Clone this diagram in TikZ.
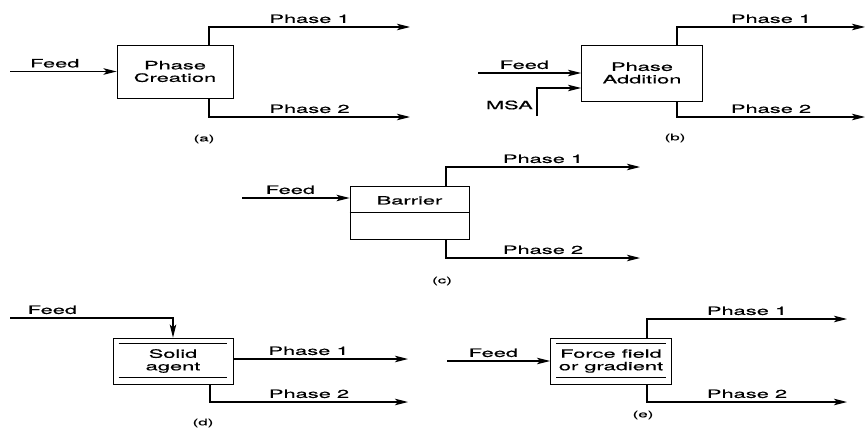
\documentclass[tikz,border=0pt]{standalone}
\usepackage{fontspec}
\usepackage{tikz}
\usetikzlibrary{arrows.meta,calc,positioning}
\newfontfamily\flowfont{TeX Gyre Heros}[FakeStretch=1.9,FakeBold=0.6]

\begin{document}
\begin{tikzpicture}[x=1pt,y=-1pt,font=\flowfont\fontsize{11.5}{12.5}\selectfont]
  \tikzset{unitbox/.style={draw,line width=0.9pt,align=center,inner sep=0pt},
           flow/.style={-{Stealth[length=13pt,width=6.5pt,inset=3pt]},line width=1.2pt},
           caption/.style={font=\flowfont\fontsize{9}{10}\selectfont}}
  \useasboundingbox (0,0) rectangle (866,428);
  % ---------------- (a) phase creation
  \node[unitbox,minimum width=116pt,minimum height=53pt] (boxa) at (175,71.5) {Phase\\Creation};
  \coordinate (feeda) at (10,71.5);
  \coordinate (a1) at (410,27); \coordinate (a2) at (410,117);
  \draw[flow] (feeda) -- node[above,pos=0.42] {Feed} (boxa.west);
  \draw[flow] ([xshift=34pt]boxa.north) |- node[above,pos=0.75] {Phase 1} (a1);
  \draw[flow] ([xshift=34pt]boxa.south) |- node[above,pos=0.75] {Phase 2} (a2);
  \node[caption] (capa) at (204,139) {(a)};
  % ---------------- (b) phase addition
  \node[unitbox,minimum width=121pt,minimum height=56pt] (boxb) at (642,73) {Phase\\Addition};
  \coordinate (feedb) at (478,73); \coordinate (msa) at (537,116);
  \coordinate (b1) at (865,27); \coordinate (b2) at (865,117);
  \draw[flow] (feedb) -- node[above,pos=0.45] {Feed} (boxb.west);
  \draw[flow] (msa) |- ([yshift=-15pt]boxb.west);
  \node[left=4pt of msa,yshift=11pt,inner sep=0pt] (msalab) {MSA};
  \draw[flow] ([xshift=35pt]boxb.north) |- node[above,pos=0.75] {Phase 1} (b1);
  \draw[flow] ([xshift=35pt]boxb.south) |- node[above,pos=0.75] {Phase 2} (b2);
  \node[caption] (capb) at (675,138) {(b)};
  % ---------------- (c) barrier
  \node[unitbox,minimum width=119pt,minimum height=53pt] (boxc) at (409.5,212.5) {};
  \draw[line width=0.9pt] (boxc.west) -- (boxc.east);
  \node (barrier) at ($(boxc.center)!0.45!(boxc.north)$) {Barrier};
  \coordinate (feedc) at (242,198);
  \coordinate (c1) at (640,167); \coordinate (c2) at (640,258);
  \draw[flow] (feedc) -- node[above,pos=0.45] {Feed} (feedc -| boxc.west);
  \draw[flow] ([xshift=36.5pt]boxc.north) |- node[above,pos=0.75] {Phase 1} (c1);
  \draw[flow] ([xshift=36.5pt]boxc.south) |- node[above,pos=0.75] {Phase 2} (c2);
  \node[caption] (capc) at (442,281) {(c)};
  % ---------------- (d) solid agent
  \node[unitbox,minimum width=120pt,minimum height=46pt] (boxd) at (173,361) {Solid\\agent};
  \draw[line width=0.7pt] ([xshift=6pt,yshift=-6pt]boxd.north west) -- ([xshift=-6pt,yshift=-6pt]boxd.north east);
  \draw[line width=0.7pt] ([xshift=6pt,yshift=7pt]boxd.south west) -- ([xshift=-6pt,yshift=7pt]boxd.south east);
  \coordinate (feedd) at (10,318);
  \coordinate (d1) at (408,359); \coordinate (d2) at (408,402);
  \draw[flow] (feedd) -| node[above,pos=0.13] {Feed} (boxd.north);
  \draw[flow] (boxd.east |- d1) -- node[above,pos=0.43] {Phase 1} (d1);
  \draw[flow] ([xshift=37pt]boxd.south) |- node[above,pos=0.75] {Phase 2} (d2);
  \node[caption] (capd) at (203,423) {(d)};
  % ---------------- (e) force field
  \node[unitbox,minimum width=121pt,minimum height=46pt] (boxe) at (611,361) {Force field\\or gradient};
  \draw[line width=0.7pt] ([xshift=6pt,yshift=-6pt]boxe.north west) -- ([xshift=-6pt,yshift=-6pt]boxe.north east);
  \draw[line width=0.7pt] ([xshift=6pt,yshift=7pt]boxe.south west) -- ([xshift=-6pt,yshift=7pt]boxe.south east);
  \coordinate (feede) at (447,361);
  \coordinate (e1) at (847,319); \coordinate (e2) at (847,402);
  \draw[flow] (feede) -- node[above,pos=0.45] {Feed} (boxe.west);
  \draw[flow] ([xshift=36pt]boxe.north) |- node[above,pos=0.75] {Phase 1} (e1);
  \draw[flow] ([xshift=36pt]boxe.south) |- node[above,pos=0.75] {Phase 2} (e2);
  \node[caption] (cape) at (643,415) {(e)};
\end{tikzpicture}
\end{document}
